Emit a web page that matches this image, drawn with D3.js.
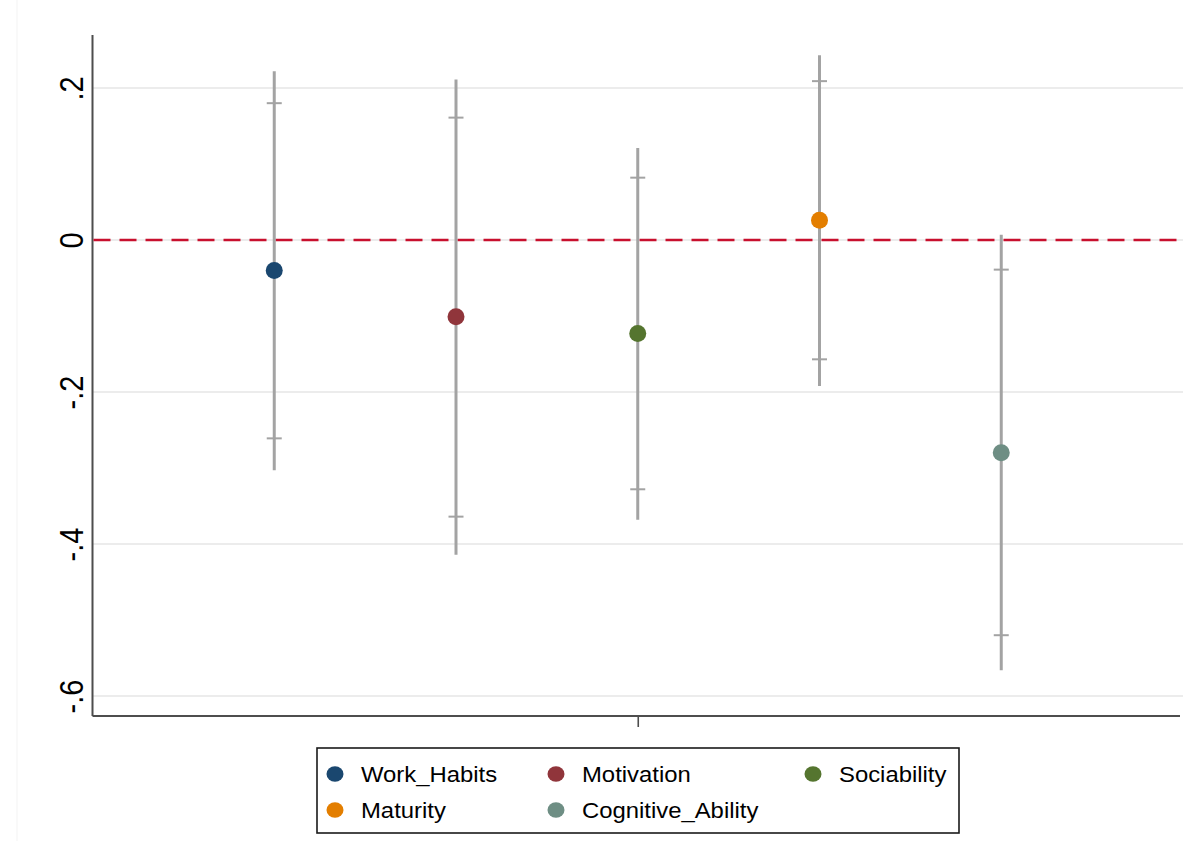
<!DOCTYPE html>
<html>
<head>
<meta charset="utf-8">
<script src="https://cdn.jsdelivr.net/npm/d3@7"></script>
<style>
  html, body { margin: 0; padding: 0; background: #fff; }
  svg { display: block; font-family: "Liberation Sans", Arial, sans-serif; }
</style>
</head>
<body>
<svg id="chart" width="1188" height="841"></svg>
<script>
// Coefficient estimates with 95% (whisker) and 90% (cap) intervals
const categories = ["Work_Habits", "Motivation", "Sociability", "Maturity", "Cognitive_Ability"];
const estimates  = [-0.040, -0.101, -0.123, 0.026, -0.280];
const ci95Low    = [-0.303, -0.414, -0.368, -0.192, -0.566];
const ci95High   = [ 0.222,  0.211,  0.121,  0.243,  0.007];
const ci90Low    = [-0.261, -0.364, -0.328, -0.157, -0.520];
const ci90High   = [ 0.180,  0.161,  0.082,  0.209, -0.039];
const colors     = ["#1a476f", "#90353b", "#55752f", "#e37e00", "#6e8e84"];
const yTicks     = [0.2, 0, -0.2, -0.4, -0.6];
const yTickLabels = [".2", "0", "-.2", "-.4", "-.6"];

const data = categories.map((c, i) => ({
  name: c, pos: i + 1, est: estimates[i],
  lo95: ci95Low[i], hi95: ci95High[i], lo90: ci90Low[i], hi90: ci90High[i],
  color: colors[i]
}));

const svg = d3.select("#chart");
const plot = { left: 92.5, right: 1183, top: 35, bottom: 716 };

const x = d3.scaleLinear().domain([0, 6]).range([plot.left, plot.right]);
const y = d3.scaleLinear().domain([-0.6263, 0.2697]).range([plot.bottom, plot.top]);

// faint outer region edge
svg.append("line")
  .attr("x1", 17).attr("x2", 17).attr("y1", 0).attr("y2", 841)
  .attr("stroke", "#f3f3f3").attr("stroke-width", 1);

// horizontal gridlines
svg.append("g").selectAll("line").data(yTicks).join("line")
  .attr("x1", plot.left).attr("x2", plot.right)
  .attr("y1", d => y(d)).attr("y2", d => y(d))
  .attr("stroke", "#ececec").attr("stroke-width", 2);

// y axis
const yAxis = svg.append("g")
  .attr("transform", `translate(${plot.left},0)`)
  .call(d3.axisLeft(y).tickValues(yTicks).tickSize(0).tickFormat((d, i) => yTickLabels[i]));
yAxis.select(".domain").attr("stroke", "#4d4d4d").attr("stroke-width", 2)
  .attr("d", `M0,${plot.top}V${plot.bottom}`);
yAxis.selectAll("text")
  .attr("fill", "#000")
  .style("font-size", "29px")
  .attr("text-anchor", "middle")
  .attr("x", null).attr("dy", null)
  .attr("transform", "translate(-10,0) scale(1.12,1) rotate(-90)");

// x axis with a single tick at the centre
const xAxis = svg.append("g")
  .attr("transform", `translate(0,${plot.bottom})`)
  .call(d3.axisBottom(x).tickValues([3]).tickSize(11).tickFormat(""));
xAxis.select(".domain").attr("stroke", "#4d4d4d").attr("stroke-width", 2)
  .attr("d", `M${plot.left},0H${plot.right - 3}`);
xAxis.selectAll(".tick line").attr("stroke", "#4d4d4d").attr("stroke-width", 1.6);

// zero reference line
svg.append("line")
  .attr("x1", plot.left + 1).attr("x2", plot.right)
  .attr("y1", y(0)).attr("y2", y(0))
  .attr("stroke", "#c8102e").attr("stroke-width", 2.6)
  .attr("stroke-dasharray", "17,9");

const bars = svg.append("g").selectAll("g").data(data).join("g");

// 95% interval whiskers
bars.append("line")
  .attr("x1", d => x(d.pos)).attr("x2", d => x(d.pos))
  .attr("y1", d => y(d.lo95)).attr("y2", d => y(d.hi95))
  .attr("stroke", "#a3a3a3").attr("stroke-width", 3);

// 90% interval caps
["lo90", "hi90"].forEach(k => {
  bars.append("line")
    .attr("x1", d => x(d.pos) - 7.5).attr("x2", d => x(d.pos) + 7.5)
    .attr("y1", d => y(d[k])).attr("y2", d => y(d[k]))
    .attr("stroke", "#a3a3a3").attr("stroke-width", 2);
});

// point estimates
bars.append("circle")
  .attr("cx", d => x(d.pos)).attr("cy", d => y(d.est))
  .attr("r", 8.5).attr("fill", d => d.color);

// legend
const legend = svg.append("g");
legend.append("rect")
  .attr("x", 317).attr("y", 748).attr("width", 642).attr("height", 85)
  .attr("fill", "#fff").attr("stroke", "#1a1a1a").attr("stroke-width", 1.6);

const colX = [335, 556, 813];
const rowY = [774, 810];
const items = legend.selectAll("g.item").data(data).join("g")
  .attr("class", "item")
  .attr("transform", (d, i) => `translate(${colX[i % 3]},${rowY[Math.floor(i / 3)]})`);
items.append("ellipse").attr("rx", 8.5).attr("ry", 7.8).attr("fill", d => d.color);
items.append("text")
  .attr("transform", "translate(26,8) scale(1.11,1)")
  .style("font-size", "21.5px")
  .attr("fill", "#000")
  .text(d => d.name);
</script>
</body>
</html>
